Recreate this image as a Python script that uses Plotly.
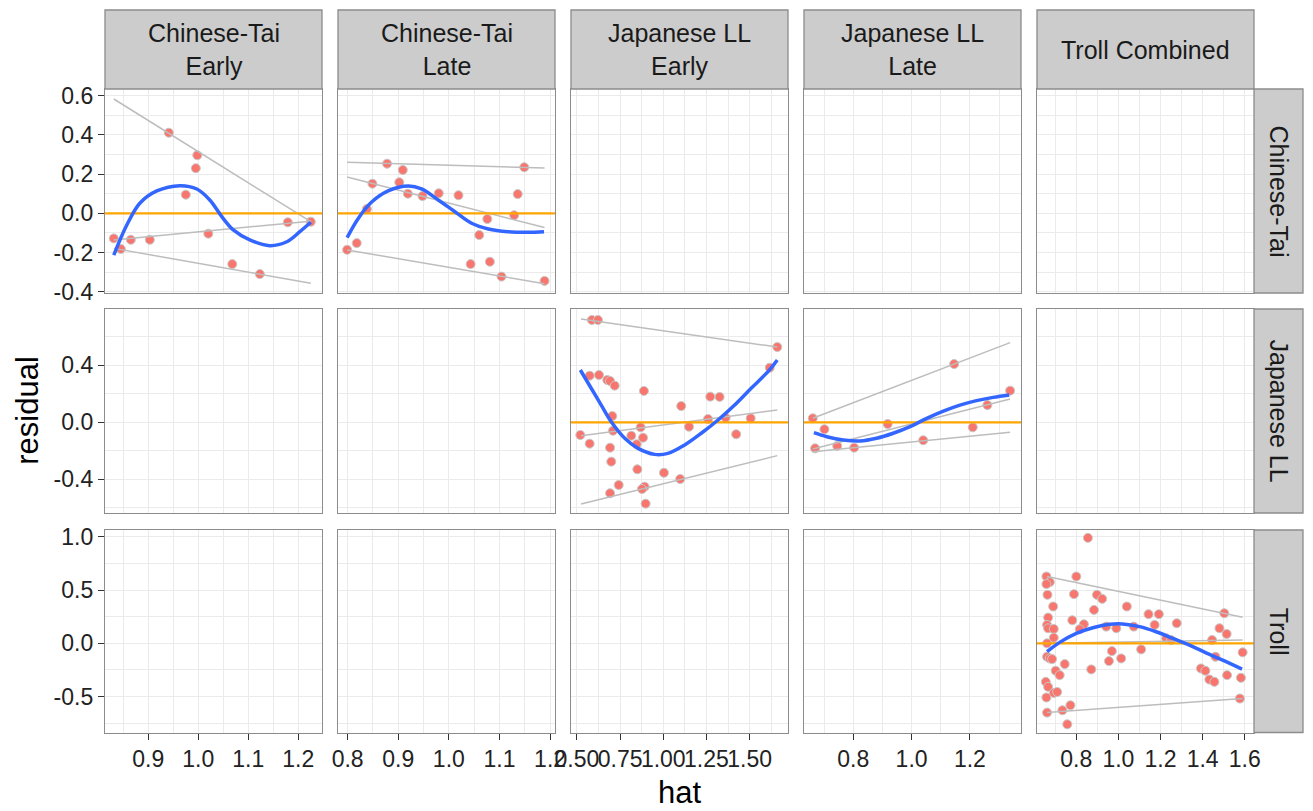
import plotly.graph_objects as go

# ---------------- data ----------------
# Chinese-Tai / Early
ct_early_hat = [0.941, 0.998, 0.995, 0.975, 0.831, 0.865, 0.903, 1.020, 1.179, 1.225, 0.845, 1.068, 1.123]
ct_early_res = [0.411, 0.296, 0.230, 0.095, -0.128, -0.135, -0.135, -0.104, -0.046, -0.043, -0.182, -0.259, -0.310]
ct_early_fit_hat = [0.831, 0.857, 0.883, 0.917, 0.963, 0.997, 1.023, 1.047, 1.070, 1.103, 1.143, 1.177, 1.203, 1.225]
ct_early_fit_res = [-0.213, -0.060, 0.051, 0.114, 0.141, 0.124, 0.068, -0.017, -0.085, -0.136, -0.165, -0.145, -0.094, -0.046]
ct_early_q_hat = [0.831, 1.225]
ct_early_q90 = [0.583, -0.043]
ct_early_q50 = [-0.136, -0.040]
ct_early_q10 = [-0.179, -0.357]

# Chinese-Tai / Late
ct_late_hat = [0.878, 0.909, 1.149, 0.849, 0.902, 0.919, 0.948, 0.980, 1.019, 1.136,
               0.838, 1.076, 1.129, 1.060, 0.818, 0.799, 1.043, 1.081, 1.104, 1.189]
ct_late_res = [0.253, 0.221, 0.235, 0.151, 0.158, 0.100, 0.088, 0.102, 0.092, 0.098,
               0.022, -0.029, -0.010, -0.111, -0.152, -0.186, -0.259, -0.247, -0.323, -0.345]
ct_late_fit_hat = [0.799, 0.821, 0.847, 0.880, 0.920, 0.946, 0.979, 1.012, 1.045, 1.078, 1.117, 1.157, 1.188]
ct_late_fit_res = [-0.124, -0.026, 0.056, 0.114, 0.139, 0.124, 0.068, 0.008, -0.051, -0.080, -0.094, -0.097, -0.094]
ct_late_q_hat = [0.799, 1.189]
ct_late_q90 = [0.260, 0.231]
ct_late_q50 = [0.185, -0.073]
ct_late_q10 = [-0.187, -0.359]

# Japanese LL / Early
jll_early_hat = [0.587, 0.622, 1.660, 1.616, 0.574, 0.628, 0.676, 0.692, 0.719, 0.888, 1.272, 1.326,
                 1.104, 0.705, 1.259, 1.361, 1.506, 0.869, 1.149, 0.709, 0.520, 0.815, 0.883, 1.422,
                 0.574, 0.846, 0.692, 0.699, 0.850, 1.004, 1.098, 0.742, 0.892, 0.877, 0.692, 0.898]
jll_early_res = [0.718, 0.718, 0.528, 0.383, 0.327, 0.332, 0.297, 0.290, 0.257, 0.220, 0.180, 0.178,
                 0.114, 0.044, 0.023, 0.032, 0.028, -0.035, -0.031, -0.059, -0.089, -0.094, -0.108, -0.084,
                 -0.150, -0.154, -0.178, -0.276, -0.330, -0.354, -0.398, -0.440, -0.452, -0.468, -0.498, -0.571]
jll_early_fit_hat = [0.520, 0.583, 0.641, 0.699, 0.777, 0.854, 0.950, 1.027, 1.124, 1.220, 1.317, 1.413, 1.509, 1.606, 1.660]
jll_early_fit_res = [0.367, 0.239, 0.121, 0.004, -0.112, -0.183, -0.225, -0.218, -0.159, -0.077, 0.016, 0.121, 0.239, 0.355, 0.437]
jll_early_q_hat = [0.524, 1.660]
jll_early_q90 = [0.725, 0.528]
jll_early_q50 = [-0.094, 0.086]
jll_early_q10 = [-0.573, -0.234]

# Japanese LL / Late
jll_late_hat = [0.661, 1.146, 1.338, 1.260, 0.701, 0.918, 1.210, 0.669, 0.745, 0.803, 1.040]
jll_late_res = [0.028, 0.409, 0.222, 0.121, -0.049, -0.012, -0.035, -0.183, -0.166, -0.178, -0.126]
jll_late_fit_hat = [0.665, 0.709, 0.766, 0.823, 0.880, 0.937, 0.995, 1.052, 1.109, 1.166, 1.223, 1.280, 1.335]
jll_late_fit_res = [-0.073, -0.101, -0.124, -0.131, -0.112, -0.077, -0.031, 0.028, 0.079, 0.121, 0.152, 0.175, 0.192]
jll_late_q_hat = [0.661, 1.338]
jll_late_q90 = [0.028, 0.559]
jll_late_q50 = [-0.188, 0.163]
jll_late_q10 = [-0.206, -0.070]

# Troll Combined
troll_hat = [0.855, 0.658, 0.674, 0.658, 0.800, 0.663, 0.789, 0.898, 0.923, 0.690, 0.884, 1.040,
             1.143, 1.192, 1.277, 1.503, 0.666, 0.781, 0.836, 0.661, 0.666, 0.693, 0.816, 0.942,
             0.990, 1.073, 1.172, 1.480, 1.514, 0.693, 1.227, 1.250, 1.445, 0.661, 1.590, 1.108,
             0.969, 0.661, 0.674, 0.685, 1.013, 0.955, 1.461, 0.745, 0.871, 0.702, 0.721, 1.392,
             1.413, 1.432, 1.456, 1.516, 1.582, 0.655, 0.666, 0.693, 0.709, 0.658, 1.577, 0.772,
             0.734, 0.661, 0.757]
troll_res = [0.991, 0.628, 0.575, 0.557, 0.628, 0.456, 0.462, 0.456, 0.418, 0.346, 0.314, 0.346,
             0.274, 0.274, 0.189, 0.283, 0.242, 0.217, 0.179, 0.173, 0.141, 0.135, 0.132, 0.157,
             0.142, 0.157, 0.173, 0.142, 0.088, 0.053, 0.047, 0.031, 0.031, 0.000, -0.085, -0.057,
             -0.073, -0.126, -0.142, -0.148, -0.142, -0.167, -0.126, -0.195, -0.245, -0.258, -0.299, -0.236,
             -0.258, -0.340, -0.362, -0.299, -0.324, -0.362, -0.409, -0.466, -0.457, -0.509, -0.519, -0.582,
             -0.629, -0.651, -0.761]
troll_fit_hat = [0.661, 0.721, 0.800, 0.879, 0.958, 1.021, 1.100, 1.179, 1.258, 1.337, 1.416, 1.495, 1.587]
troll_fit_res = [-0.079, 0.009, 0.094, 0.147, 0.179, 0.182, 0.157, 0.109, 0.047, -0.016, -0.089, -0.158, -0.242]
troll_q_hat = [0.661, 1.590]
troll_q90 = [0.628, 0.245]
troll_q50 = [0.000, 0.031]
troll_q10 = [-0.651, -0.519]

col_labels = ["Chinese-Tai<br>Early", "Chinese-Tai<br>Late", "Japanese LL<br>Early",
              "Japanese LL<br>Late", "Troll Combined"]
row_labels = ["Chinese-Tai", "Japanese LL", "Troll"]

x_tickvals = [[0.9, 1.0, 1.1, 1.2], [0.8, 0.9, 1.0, 1.1, 1.2], [0.5, 0.75, 1.0, 1.25, 1.5],
              [0.8, 1.0, 1.2], [0.8, 1.0, 1.2, 1.4, 1.6]]
x_ticktext = [["0.9", "1.0", "1.1", "1.2"], ["0.8", "0.9", "1.0", "1.1", "1.2"],
              ["0.50", "0.75", "1.00", "1.25", "1.50"], ["0.8", "1.0", "1.2"],
              ["0.8", "1.0", "1.2", "1.4", "1.6"]]
x_minor = [[0.85, 0.95, 1.05, 1.15], [0.85, 0.95, 1.05, 1.15], [0.625, 0.875, 1.125, 1.375, 1.625],
           [0.7, 0.9, 1.1, 1.3], [0.7, 0.9, 1.1, 1.3, 1.5]]
y_tickvals = [[-0.4, -0.2, 0.0, 0.2, 0.4, 0.6], [-0.4, 0.0, 0.4], [-0.5, 0.0, 0.5, 1.0]]
y_ticktext = [["-0.4", "-0.2", "0.0", "0.2", "0.4", "0.6"], ["-0.4", "0.0", "0.4"],
              ["-0.5", "0.0", "0.5", "1.0"]]
y_minor = [[-0.3, -0.1, 0.1, 0.3, 0.5], [-0.6, -0.2, 0.2, 0.6], [-0.75, -0.25, 0.25, 0.75]]

x_ranges = [[0.8134, 1.2474], [0.781, 1.2097], [0.466, 1.722], [0.631, 1.3754], [0.6133, 1.644]]
y_ranges = [[-0.4066, 0.634], [-0.6365, 0.795], [-0.838, 1.065]]

# ---------------- layout geometry (pixels) ----------------
W, H = 1313, 811
col_left = [105, 338, 571, 804, 1037]
col_w = 217
row_top = [89, 309, 530]
row_bot = [293, 513, 732.5]
strip_top = 10
strip_right = 1303

FONT = "Liberation Sans, Arial, Helvetica, sans-serif"
POINT = "#F8766D"
SMOOTH = "#3366FF"
QLINE = "#BDBDBD"
ZERO = "#FFA500"
GRID = "#EBEBEB"
BORDER = "#8C8C8C"
STRIP = "#CCCCCC"
TICK_SIZE = 23
STRIP_SIZE = 25
TITLE_SIZE = 31


def fx(px):
    return px / W


def fy(py):
    return 1 - py / H


def ax_id(k):
    return "" if k == 1 else str(k)


fig = go.Figure()

panels = {
    (0, 0): (ct_early_hat, ct_early_res, ct_early_fit_hat, ct_early_fit_res,
             ct_early_q_hat, [ct_early_q90, ct_early_q50, ct_early_q10]),
    (0, 1): (ct_late_hat, ct_late_res, ct_late_fit_hat, ct_late_fit_res,
             ct_late_q_hat, [ct_late_q90, ct_late_q50, ct_late_q10]),
    (1, 2): (jll_early_hat, jll_early_res, jll_early_fit_hat, jll_early_fit_res,
             jll_early_q_hat, [jll_early_q90, jll_early_q50, jll_early_q10]),
    (1, 3): (jll_late_hat, jll_late_res, jll_late_fit_hat, jll_late_fit_res,
             jll_late_q_hat, [jll_late_q90, jll_late_q50, jll_late_q10]),
    (2, 4): (troll_hat, troll_res, troll_fit_hat, troll_fit_res,
             troll_q_hat, [troll_q90, troll_q50, troll_q10]),
}

layout_axes = {}
for r in range(3):
    for c in range(5):
        k = r * 5 + c + 1
        sid = ax_id(k)
        bottom = r == 2
        left = c == 0
        layout_axes["xaxis" + sid] = dict(
            domain=[fx(col_left[c]), fx(col_left[c] + col_w)],
            range=x_ranges[c], anchor="y" + sid, automargin=False,
            tickmode="array", tickvals=x_tickvals[c], ticktext=x_ticktext[c],
            showticklabels=bottom, ticks="outside" if bottom else "",
            ticklen=6, tickwidth=1.3, tickcolor="#333333", tickangle=0,
            tickfont=dict(family=FONT, size=TICK_SIZE, color="#222222"),
            showgrid=True, gridcolor=GRID, gridwidth=1.2,
            minor=dict(tickvals=x_minor[c], showgrid=True, gridcolor=GRID, gridwidth=0.6, ticks=""),
            showline=True, mirror=True, linecolor=BORDER, linewidth=1.3,
            zeroline=False, fixedrange=True,
        )
        layout_axes["yaxis" + sid] = dict(
            domain=[fy(row_bot[r]), fy(row_top[r])],
            range=y_ranges[r], anchor="x" + sid, automargin=False,
            tickmode="array", tickvals=y_tickvals[r], ticktext=y_ticktext[r],
            showticklabels=left, ticks="outside" if left else "",
            ticklen=6, tickwidth=1.3, tickcolor="#333333",
            tickfont=dict(family=FONT, size=TICK_SIZE, color="#222222"),
            showgrid=True, gridcolor=GRID, gridwidth=1.2,
            minor=dict(tickvals=y_minor[r], showgrid=True, gridcolor=GRID, gridwidth=0.6, ticks=""),
            showline=True, mirror=True, linecolor=BORDER, linewidth=1.3,
            zeroline=False, fixedrange=True,
        )

        xa, ya = "x" + sid, "y" + sid
        # an empty trace so every facet gets its own frame and grid
        fig.add_trace(go.Scatter(x=[], y=[], mode="markers", xaxis=xa, yaxis=ya,
                                 showlegend=False, hoverinfo="skip"))

        if (r, c) in panels:
            hat, res, fit_hat, fit_res, q_hat, q_lines = panels[(r, c)]
            fig.add_trace(go.Scatter(
                x=hat, y=res, mode="markers", xaxis=xa, yaxis=ya, showlegend=False,
                marker=dict(size=9, color=POINT, line=dict(color="#C8C8C8", width=1)),
            ))
            for q in q_lines:
                fig.add_trace(go.Scatter(
                    x=q_hat, y=q, mode="lines", xaxis=xa, yaxis=ya, showlegend=False,
                    line=dict(color=QLINE, width=1.5),
                ))
            fig.add_trace(go.Scatter(
                x=x_ranges[c], y=[0, 0], mode="lines", xaxis=xa, yaxis=ya, showlegend=False,
                line=dict(color=ZERO, width=2.2),
            ))
            fig.add_trace(go.Scatter(
                x=fit_hat, y=fit_res, mode="lines", xaxis=xa, yaxis=ya, showlegend=False,
                line=dict(color=SMOOTH, width=3.5, shape="spline", smoothing=1.0),
            ))

shapes = []
annotations = []
# column strips
for c, lab in enumerate(col_labels):
    shapes.append(dict(type="rect", xref="paper", yref="paper",
                       x0=fx(col_left[c]), x1=fx(col_left[c] + col_w),
                       y0=fy(row_top[0]), y1=fy(strip_top),
                       fillcolor=STRIP, line=dict(color=BORDER, width=1.3), layer="above"))
    annotations.append(dict(text=lab, xref="paper", yref="paper",
                            x=fx(col_left[c] + col_w / 2), y=fy((strip_top + row_top[0]) / 2),
                            showarrow=False, xanchor="center", yanchor="middle",
                            font=dict(family=FONT, size=STRIP_SIZE, color="#1A1A1A")))
# row strips
for r, lab in enumerate(row_labels):
    shapes.append(dict(type="rect", xref="paper", yref="paper",
                       x0=fx(col_left[4] + col_w), x1=fx(strip_right),
                       y0=fy(row_bot[r]), y1=fy(row_top[r]),
                       fillcolor=STRIP, line=dict(color=BORDER, width=1.3), layer="above"))
    annotations.append(dict(text=lab, xref="paper", yref="paper",
                            x=fx((col_left[4] + col_w + strip_right) / 2),
                            y=fy((row_top[r] + row_bot[r]) / 2),
                            showarrow=False, xanchor="center", yanchor="middle", textangle=90,
                            font=dict(family=FONT, size=STRIP_SIZE, color="#1A1A1A")))

# axis titles
annotations.append(dict(text="hat", xref="paper", yref="paper",
                        x=fx((col_left[0] + col_left[4] + col_w) / 2), y=fy(792),
                        showarrow=False, xanchor="center", yanchor="middle",
                        font=dict(family=FONT, size=TITLE_SIZE, color="#000000")))
annotations.append(dict(text="residual", xref="paper", yref="paper",
                        x=fx(28), y=fy((row_top[0] + row_bot[2]) / 2),
                        showarrow=False, xanchor="center", yanchor="middle", textangle=-90,
                        font=dict(family=FONT, size=TITLE_SIZE, color="#000000")))

fig.update_layout(
    width=W, height=H,
    margin=dict(l=0, r=0, t=0, b=0, autoexpand=False),
    paper_bgcolor="white", plot_bgcolor="white",
    showlegend=False,
    shapes=shapes, annotations=annotations,
    **layout_axes,
)

fig.write_html("out.html")
